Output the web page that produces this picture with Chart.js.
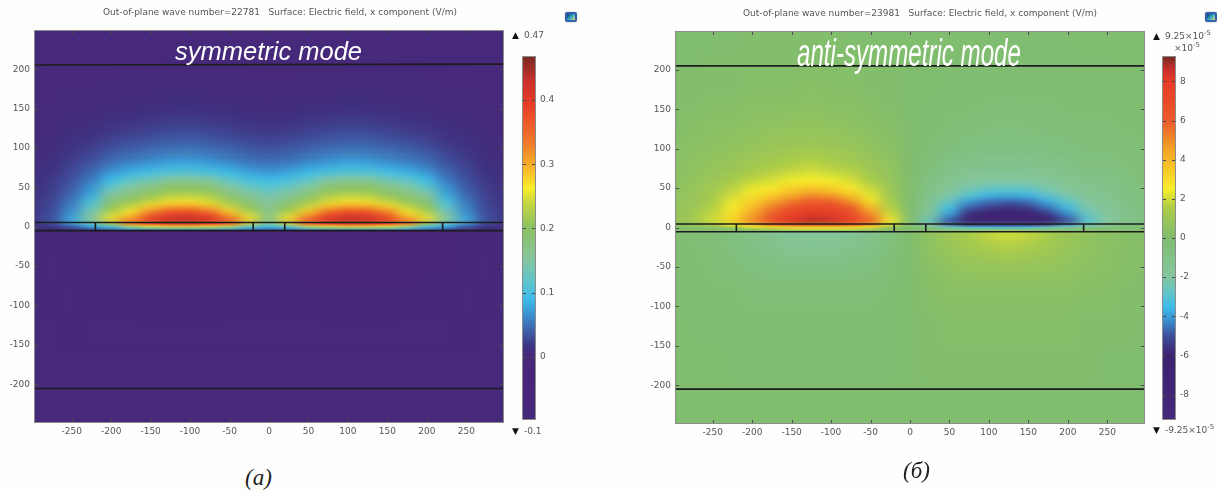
<!DOCTYPE html>
<html>
<head>
<meta charset="utf-8">
<script src="https://cdn.jsdelivr.net/npm/chart.js@4/dist/chart.umd.min.js"></script>
<style>
  html, body { margin: 0; padding: 0; background: #fefefc; }
  body { width: 1217px; height: 492px; position: relative; overflow: hidden; filter: blur(0.4px); }
  canvas { position: absolute; }
  .t { position: absolute; white-space: nowrap; font-family: "DejaVu Sans", sans-serif; font-size: 9px; color: #555; line-height: 12px; }
  .t sup { font-size: 7px; line-height: 0; }
  .mode { position: absolute; white-space: nowrap; color: #fff; font-family: "Liberation Sans", sans-serif; font-style: italic; transform-origin: left top; }
  .cap { position: absolute; font-family: "Liberation Serif", serif; font-style: italic; font-size: 23px; color: #222; line-height: 26px; }
  .icon { position: absolute; width: 8px; height: 6px; border: 2px solid #2f5fb0; border-radius: 2px; background: linear-gradient(135deg, #15306e, #38b0c8 55%, #ecdc50); box-shadow: 0 0 2px #bbb; }
</style>
</head>
<body>
<svg width="0" height="0" style="position:absolute">
  <filter id="blurFar" x="0" y="0" width="100%" height="100%" color-interpolation-filters="sRGB"><feGaussianBlur stdDeviation="8 10"/></filter>
  <filter id="blurNear" x="0" y="0" width="100%" height="100%" color-interpolation-filters="sRGB"><feGaussianBlur stdDeviation="7 3"/></filter>
  <filter id="blurBand" x="0" y="0" width="100%" height="100%" color-interpolation-filters="sRGB"><feGaussianBlur stdDeviation="6 0.8"/></filter>
</svg>

<canvas id="symChart" width="530" height="460" style="left:0;top:0"></canvas>
<canvas id="symBar" width="62" height="460" style="left:510px;top:0"></canvas>
<canvas id="antiChart" width="530" height="460" style="left:641px;top:1px"></canvas>
<canvas id="antiBar" width="67" height="460" style="left:1150px;top:0"></canvas>

<div class="t" style="left:103px;top:6px">Out-of-plane wave number=22781&nbsp;&nbsp;&nbsp;Surface: Electric field, x component (V/m)</div>
<div class="t" style="left:743px;top:7px">Out-of-plane wave number=23981&nbsp;&nbsp;&nbsp;Surface: Electric field, x component (V/m)</div>
<div class="mode" style="left:175px;top:37px;font-size:25.5px;line-height:28px">symmetric mode</div>
<div class="mode" style="left:797px;top:31px;font-size:38px;line-height:44px;transform:scaleX(.635)">anti-symmetric mode</div>

<div class="t" style="left:512px;top:29px;color:#111">&#9650;</div>
<div class="t" style="left:524px;top:29px">0.47</div>
<div class="t" style="left:512px;top:425px;color:#111">&#9660;</div>
<div class="t" style="left:524px;top:425px">-0.1</div>
<div class="t" style="left:1153px;top:30px;color:#111">&#9650;</div>
<div class="t" style="left:1165px;top:30px">9.25&times;10<sup>-5</sup></div>
<div class="t" style="left:1174px;top:42px">&times;10<sup>-5</sup></div>
<div class="t" style="left:1153px;top:424px;color:#111">&#9660;</div>
<div class="t" style="left:1165px;top:424px">-9.25&times;10<sup>-5</sup></div>

<div class="icon" style="left:565px;top:12px"></div>
<div class="icon" style="left:1205px;top:12px"></div>
<div class="cap" style="left:245px;top:465px">(a)</div>
<div class="cap" style="left:903px;top:458px">(б)</div>

<script>
// axis ticks (nm)
const xTicks = [-250, -200, -150, -100, -50, 0, 50, 100, 150, 200, 250];
const yTicks = [-200, -150, -100, -50, 0, 50, 100, 150, 200];
const symBarTicks = [0, 0.1, 0.2, 0.3, 0.4];
const antiBarTicks = [-8, -6, -4, -2, 0, 2, 4, 6, 8];

// cell centres along x, cell edges along y (rows get thin near the surface)
const xCols = [-325, -300, -275, -250, -225, -200, -175, -150, -125, -100, -75, -50, -25, 0, 25, 50, 75, 100, 125, 150, 175, 200, 225, 250, 275, 300, 325];
const yEdges = [300, 225, 200, 175, 150, 130, 110, 95, 85, 75, 65, 55, 45, 37, 30, 23, 16, 10, 5, 2.5, 0, -2.5, -5, -15, -30, -50, -75, -110, -150, -200, -300];

// Ex, 1e-3 V/m, one list per column, top to bottom
const symColumns = [
  [0,0,0,0,1,2,3,4,5,6,7,8,9,10,11,12,13,14,10,7,4,2,-2,-2,-2,-2,-1,-1,0,0],
  [0,0,0,1,2,3,5,6,8,9,11,13,14,16,17,18,19,20,16,11,7,4,-4,-4,-3,-3,-2,-1,0,0],
  [0,0,0,1,3,5,8,11,13,16,19,22,24,26,28,30,32,35,28,20,13,8,-8,-8,-7,-6,-4,-2,-1,0],
  [0,0,1,3,6,11,16,20,24,28,33,38,45,52,58,65,72,85,62,42,28,18,-12,-14,-12,-10,-6,-3,-1,0],
  [0,0,1,3,7,13,21,28,35,44,55,68,80,100,118,135,150,160,110,80,55,30,-16,-20,-18,-14,-9,-5,-2,0],
  [0,0,1,4,11,19,30,40,52,67,90,122,155,178,200,225,250,280,200,120,75,40,-20,-24,-22,-17,-11,-6,-2,0],
  [0,0,2,5,12,22,35,48,62,84,118,155,182,205,235,265,300,350,330,225,130,60,-22,-26,-24,-19,-12,-6,-2,0],
  [0,0,2,7,15,26,40,54,70,95,135,175,205,235,275,330,375,410,385,265,165,65,-24,-28,-25,-20,-13,-7,-2,0],
  [0,0,2,8,17,29,45,60,78,105,155,200,225,255,300,375,405,440,400,280,180,70,-25,-30,-26,-20,-13,-7,-2,0],
  [0,0,2,8,18,30,46,62,80,108,158,200,228,258,305,380,410,445,405,285,185,70,-25,-30,-26,-20,-13,-7,-2,0],
  [0,0,2,7,16,28,42,56,74,98,148,190,220,245,285,350,395,430,390,270,170,65,-24,-28,-25,-20,-13,-7,-2,0],
  [0,0,2,6,14,25,38,50,66,88,118,155,185,210,240,280,330,380,350,240,140,60,-22,-26,-24,-19,-12,-6,-2,0],
  [0,0,1,5,12,21,32,44,56,75,100,130,155,178,200,225,255,290,230,140,85,40,-18,-22,-20,-16,-11,-6,-2,0],
  [0,0,1,5,11,20,30,40,52,68,90,115,135,150,160,168,172,175,140,100,70,40,-14,-18,-16,-13,-9,-5,-2,0],
  [0,0,1,5,12,21,32,44,56,75,100,130,155,178,200,225,255,290,230,140,85,40,-18,-22,-20,-16,-11,-6,-2,0],
  [0,0,2,6,14,25,38,50,66,88,118,155,185,210,240,280,330,380,350,240,140,60,-22,-26,-24,-19,-12,-6,-2,0],
  [0,0,2,7,16,28,42,56,74,98,148,190,220,245,285,350,395,430,390,270,170,65,-24,-28,-25,-20,-13,-7,-2,0],
  [0,0,2,8,18,30,46,62,80,108,158,200,228,258,305,380,410,445,405,285,185,70,-25,-30,-26,-20,-13,-7,-2,0],
  [0,0,2,8,17,29,45,60,78,105,155,200,225,255,300,375,405,440,400,280,180,70,-25,-30,-26,-20,-13,-7,-2,0],
  [0,0,2,7,15,26,40,54,70,95,135,175,205,235,275,330,375,410,385,265,165,65,-24,-28,-25,-20,-13,-7,-2,0],
  [0,0,2,5,12,22,35,48,62,84,118,155,182,205,235,265,300,350,330,225,130,60,-22,-26,-24,-19,-12,-6,-2,0],
  [0,0,1,4,11,19,30,40,52,67,90,122,155,178,200,225,250,280,200,120,75,40,-20,-24,-22,-17,-11,-6,-2,0],
  [0,0,1,3,7,13,21,28,35,44,55,68,80,100,118,135,150,160,110,80,55,30,-16,-20,-18,-14,-9,-5,-2,0],
  [0,0,1,3,6,11,16,20,24,28,33,38,45,52,58,65,72,85,62,42,28,18,-12,-14,-12,-10,-6,-3,-1,0],
  [0,0,0,1,3,5,8,11,13,16,19,22,24,26,28,30,32,35,28,20,13,8,-8,-8,-7,-6,-4,-2,-1,0],
  [0,0,0,1,2,3,5,6,8,9,11,13,14,16,17,18,19,20,16,11,7,4,-4,-4,-3,-3,-2,-1,0,0],
  [0,0,0,0,1,2,3,4,5,6,7,8,9,10,11,12,13,14,10,7,4,2,-2,-2,-2,-2,-1,-1,0,0]
];

// Ex (б), 1e-6 V/m, same layout
const antiColumns = [
  [0,0,0,1,1,1,2,2,2,3,3,3,4,4,4,5,5,5,3,2,1,0,-1,-1,-1,-1,0,0,0,0],
  [0,0,1,1,1,2,3,3,3,4,4,5,6,6,7,7,8,8,5,3,1,-1,-2,-2,-2,-1,-1,0,0,0],
  [0,0,1,1,2,3,4,5,5,6,7,8,8,9,10,11,12,12,8,5,2,-1,-3,-3,-2,-2,-1,-1,0,0],
  [0,1,1,2,3,4,5,6,7,8,10,12,13,15,16,18,19,20,14,8,3,-2,-4,-4,-4,-3,-2,-1,0,0],
  [0,1,1,2,3,5,6,8,9,11,14,17,20,23,26,28,31,33,25,14,6,-2,-7,-6,-5,-4,-2,-1,-1,0],
  [1,1,2,3,4,6,8,10,12,15,18,23,28,33,38,42,47,52,40,24,12,0,-10,-9,-7,-5,-3,-2,-1,0],
  [1,1,2,3,5,7,9,12,14,17,21,27,35,44,52,58,65,70,58,28,16,2,-14,-12,-9,-6,-3,-2,-1,0],
  [1,1,2,3,5,8,10,13,16,19,24,33,43,54,63,72,78,84,70,33,20,4,-18,-14,-10,-6,-3,-2,-1,0],
  [1,1,3,4,6,8,11,14,18,21,25,37,50,62,70,79,84,90,75,35,22,5,-20,-15,-10,-6,-3,-2,-1,0],
  [1,1,2,3,5,7,10,13,16,19,24,34,47,60,69,77,82,88,72,35,22,5,-19,-14,-10,-6,-3,-2,-1,0],
  [0,1,2,3,4,6,9,11,14,17,21,27,38,49,60,68,73,78,65,32,20,4,-16,-13,-9,-6,-3,-2,-1,0],
  [0,1,1,2,3,4,6,8,10,12,15,19,23,29,38,48,55,62,50,28,16,3,-12,-11,-8,-5,-3,-2,-1,0],
  [0,0,1,1,2,3,4,5,6,7,8,10,12,14,16,19,23,28,22,10,4,-2,-6,-6,-4,-3,-2,-1,-1,0],
  [0,0,0,0,0,0,0,0,0,0,0,0,0,0,0,0,0,0,0,0,0,0,0,0,0,0,0,0,0,0],
  [0,0,0,-1,-1,-2,-3,-4,-5,-6,-8,-10,-12,-14,-16,-18,-22,-28,-20,-10,-4,2,6,6,4,3,2,1,1,0],
  [0,-1,-1,-2,-3,-4,-5,-7,-9,-11,-13,-16,-21,-27,-33,-37,-44,-54,-46,-26,-14,-3,11,10,7,5,3,2,1,0],
  [0,-1,-1,-2,-3,-5,-7,-9,-11,-14,-17,-23,-30,-40,-47,-56,-63,-70,-60,-32,-18,-3,15,13,9,6,3,2,1,0],
  [-1,-1,-2,-3,-4,-6,-8,-10,-12,-15,-19,-27,-36,-46,-52,-60,-68,-78,-66,-35,-18,2,19,15,10,6,3,2,1,0],
  [-1,-1,-2,-3,-5,-6,-8,-10,-12,-16,-20,-28,-38,-48,-56,-64,-70,-80,-68,-36,-18,4,21,16,11,6,3,2,1,0],
  [-1,-1,-2,-3,-4,-6,-8,-10,-12,-15,-19,-27,-36,-46,-53,-61,-68,-78,-64,-34,-17,3,19,15,10,6,3,2,1,0],
  [-1,-1,-2,-3,-4,-5,-7,-9,-11,-13,-17,-22,-29,-38,-44,-53,-60,-68,-54,-28,-14,1,15,12,9,6,3,2,1,0],
  [-1,-1,-2,-2,-3,-5,-6,-8,-9,-11,-14,-17,-22,-28,-33,-40,-47,-55,-40,-22,-10,0,10,9,7,5,3,2,1,0],
  [0,-1,-1,-2,-3,-4,-5,-6,-7,-9,-11,-13,-16,-19,-22,-25,-28,-31,-24,-14,-6,2,7,6,5,4,2,1,1,0],
  [0,-1,-1,-2,-3,-4,-5,-6,-7,-8,-10,-12,-13,-15,-16,-18,-19,-20,-14,-8,-3,2,4,4,4,3,2,1,0,0],
  [0,0,-1,-1,-2,-3,-4,-5,-5,-6,-7,-8,-8,-9,-10,-11,-12,-12,-8,-5,-2,1,3,3,2,2,1,1,0,0],
  [0,0,-1,-1,-1,-2,-3,-3,-3,-4,-4,-5,-6,-6,-7,-7,-8,-8,-5,-3,-1,1,2,2,2,1,1,0,0,0],
  [0,0,0,-1,-1,-1,-2,-2,-2,-3,-3,-3,-4,-4,-4,-5,-5,-5,-3,-2,-1,0,1,1,1,1,0,0,0,0]
];

// colour table of each legend, same units as the fields
const symStopValues = [-100, -25, 0, 15, 40, 65, 90, 120, 150, 200, 240, 262, 295, 330, 395, 430, 467];
const symStopColors = ['#45287a', '#49247a', '#46297a', '#3f3080', '#3f5fa8', '#3a90d0', '#3dbde8', '#62c4c8', '#85c6a0', '#8bc162', '#c5d640', '#f8ee2a', '#f9b428', '#ef7d2b', '#e83a28', '#c8302a', '#7a2a24'];
const antiStopValues = [-92.5, -60, -50, -42, -35, -28, -20, 0, 15, 25, 45, 60, 80, 86, 92.5];
const antiStopColors = ['#45287a', '#3d2270', '#3f4e9a', '#3a90d0', '#3dbde8', '#62c4c8', '#85c6a0', '#80bd6e', '#a9cb4a', '#f8ee2a', '#f4a428', '#ea5a2a', '#e83a28', '#c8302a', '#7a2a24'];

// interfaces drawn in black: [x, y] ends of every segment
const symLines = [
  [[-300, 205.5], [300, 206.5]], [[-300, -205.5], [300, -205.5]],
  [[-300, 5.4], [300, 5.4]], [[-300, -5], [300, -5]],
  [[-220, 5], [-220, -5]], [[-20, 5], [-20, -5]], [[20, 5], [20, -5]], [[220, 5], [220, -5]]
];
const antiLines = [
  [[-300, 205], [300, 205]], [[-300, -205], [300, -205]],
  [[-300, 4.4], [300, 4.4]], [[-300, -5.3], [300, -5.3]],
  [[-220, 4.4], [-220, -5.3]], [[-20, 4.4], [-20, -5.3]], [[20, 4.4], [20, -5.3]], [[220, 4.4], [220, -5.3]]
];

function hexToRgb(h) {
  return [parseInt(h.slice(1, 3), 16), parseInt(h.slice(3, 5), 16), parseInt(h.slice(5, 7), 16)];
}

function colorFor(v, stopValues, stopColors) {
  let i = 0;
  while (i < stopValues.length - 2 && v > stopValues[i + 1]) i++;
  let t = (v - stopValues[i]) / (stopValues[i + 1] - stopValues[i]);
  t = Math.max(0, Math.min(1, t));
  const a = hexToRgb(stopColors[i]), b = hexToRgb(stopColors[i + 1]);
  return `rgb(${a[0] + (b[0] - a[0]) * t},${a[1] + (b[1] - a[1]) * t},${a[2] + (b[2] - a[2]) * t})`;
}

function heatDatasets(columns, stopValues, stopColors) {
  const sets = [];
  for (let r = 0; r < yEdges.length - 1; r++) {
    sets.push({
      type: 'bar',
      order: 1,
      grouped: false,
      clip: false,
      barPercentage: 1,
      categoryPercentage: 1,
      borderWidth: 0,
      data: xCols.map(x => ({ x: x, y: [yEdges[r + 1], yEdges[r]] })),
      backgroundColor: columns.map(col => colorFor(col[r], stopValues, stopColors))
    });
  }
  return sets;
}

function lineDatasets(lines) {
  return lines.map(seg => ({
    type: 'line',
    order: 0,
    data: seg.map(p => ({ x: p[0], y: p[1] })),
    borderColor: '#1c1c1c',
    borderWidth: 1.6,
    pointRadius: 0
  }));
}

// the cells are smoothed once they are painted, thin rows get a tighter blur
function smoothCells(chart) {
  const ctx = chart.ctx, c = chart.canvas, a = chart.chartArea, y = chart.scales.y;
  const tmp = document.createElement('canvas');
  tmp.width = c.width; tmp.height = c.height;
  tmp.getContext('2d').drawImage(c, 0, 0);

  const nearTop = Math.round(y.getPixelForValue(90));
  const bandTop = Math.round(y.getPixelForValue(5));
  const bandBot = Math.round(y.getPixelForValue(-5));

  // below the surface the band must not bleed down, so repeat its first row upward
  const below = document.createElement('canvas');
  below.width = c.width; below.height = c.height;
  const bctx = below.getContext('2d');
  bctx.drawImage(tmp, 0, 0);
  bctx.drawImage(tmp, 0, bandBot + 1, c.width, 1, 0, 0, c.width, bandBot + 1);

  const zones = [
    [a.top, nearTop, 'blurFar', tmp],
    [nearTop, bandTop, 'blurNear', tmp],
    [bandTop, bandBot, 'blurBand', tmp],
    [bandBot, a.bottom, 'blurFar', below]
  ];
  zones.forEach(z => {
    ctx.save();
    ctx.beginPath();
    ctx.rect(a.left, z[0], a.right - a.left, z[1] - z[0]);
    ctx.clip();
    ctx.filter = `url(#${z[2]})`;
    ctx.drawImage(z[3], 0, 0);
    ctx.restore();
  });

  ctx.clearRect(0, 0, a.left, c.height);
  ctx.clearRect(a.right, 0, c.width - a.right, c.height);
  ctx.clearRect(0, 0, c.width, a.top);
  ctx.clearRect(0, a.bottom, c.width, c.height - a.bottom);
}

const smoothPlugin = {
  id: 'smoothPlugin',
  beforeDraw(chart) { chart.$smoothed = false; },
  beforeDatasetDraw(chart, args) {
    if (!chart.$smoothed && chart.data.datasets[args.index].type === 'line') {
      smoothCells(chart);
      chart.$smoothed = true;
    }
  }
};

// short ticks pointing inward on every side, plus the thin frame
const framePlugin = {
  id: 'framePlugin',
  afterDraw(chart) {
    const ctx = chart.ctx, a = chart.chartArea;
    ctx.save();
    ctx.lineWidth = 1;
    ctx.strokeStyle = '#4a4a4a';
    ctx.beginPath();
    const len = 3;
    if (chart.scales.x && chart.scales.x.options.display) {
      chart.scales.x.ticks.forEach(t => {
        const px = Math.round(chart.scales.x.getPixelForValue(t.value)) + 0.5;
        ctx.moveTo(px, a.top); ctx.lineTo(px, a.top + len);
        ctx.moveTo(px, a.bottom); ctx.lineTo(px, a.bottom - len);
      });
    }
    chart.scales.y.ticks.forEach(t => {
      const py = Math.round(chart.scales.y.getPixelForValue(t.value)) + 0.5;
      ctx.moveTo(a.left, py); ctx.lineTo(a.left + len, py);
      ctx.moveTo(a.right, py); ctx.lineTo(a.right - len, py);
    });
    ctx.stroke();
    ctx.strokeStyle = '#8c8c8c';
    ctx.strokeRect(a.left - 0.5, a.top - 0.5, a.right - a.left + 1, a.bottom - a.top + 1);
    ctx.restore();
  }
};

const tickFont = { family: '"DejaVu Sans", sans-serif', size: 9 };

function heatChart(id, columns, stopValues, stopColors, lines, xMax, yMin, yMax) {
  return new Chart(document.getElementById(id), {
    type: 'bar',
    data: { datasets: heatDatasets(columns, stopValues, stopColors).concat(lineDatasets(lines)) },
    plugins: [smoothPlugin, framePlugin],
    options: {
      responsive: false,
      animation: false,
      layout: { padding: { top: 31, right: 27 } },
      plugins: { legend: { display: false }, tooltip: { enabled: false }, title: { display: false } },
      scales: {
        x: {
          type: 'linear', offset: false, min: -xMax, max: xMax,
          grid: { display: false, drawTicks: false, z: 1 }, border: { display: false, z: 1 },
          afterBuildTicks: s => { s.ticks = xTicks.map(v => ({ value: v })); },
          afterFit: s => { s.height = 38; },
          ticks: { z: 1, font: tickFont, color: '#555', padding: 4, maxRotation: 0, autoSkip: false }
        },
        y: {
          type: 'linear', min: yMin, max: yMax,
          grid: { display: false, drawTicks: false, z: 1 }, border: { display: false, z: 1 },
          afterBuildTicks: s => { s.ticks = yTicks.map(v => ({ value: v })); },
          afterFit: s => { s.width = 35; },
          ticks: { z: 1, font: tickFont, color: '#555', padding: 5, autoSkip: false }
        }
      }
    }
  });
}

function barChart(id, ticks, barMin, barMax, stopValues, stopColors, padLeft, barWidth, top, fmt) {
  const c = document.getElementById(id);
  const chart = new Chart(c, {
    type: 'bar',
    data: {
      labels: ['legend'],
      datasets: [{
        data: [[barMin, barMax]],
        barPercentage: 1,
        categoryPercentage: 1,
        borderWidth: 0,
        backgroundColor(ctx) {
          const ch = ctx.chart;
          if (!ch.chartArea) return stopColors[0];
          const yScale = ch.scales.y;
          const g = ch.ctx.createLinearGradient(0, yScale.getPixelForValue(barMin), 0, yScale.getPixelForValue(barMax));
          stopValues.forEach((v, i) => g.addColorStop(Math.max(0, Math.min(1, (v - barMin) / (barMax - barMin))), stopColors[i]));
          return g;
        }
      }]
    },
    plugins: [framePlugin],
    options: {
      responsive: false,
      animation: false,
      layout: { padding: { left: padLeft, top: top, bottom: 41 } },
      plugins: { legend: { display: false }, tooltip: { enabled: false } },
      scales: {
        x: { display: false },
        y: {
          position: 'right', min: barMin, max: barMax,
          grid: { display: false, drawTicks: false }, border: { display: false },
          afterBuildTicks: s => { s.ticks = ticks.map(v => ({ value: v })); },
          afterFit: s => { s.width = c.width - padLeft - barWidth; },
          ticks: { font: tickFont, color: '#555', padding: 5, autoSkip: false, callback: fmt }
        }
      }
    }
  });
  return chart;
}

heatChart('symChart', symColumns, symStopValues, symStopColors, symLines, 296.5, -248, 248.6);
heatChart('antiChart', antiColumns, antiStopValues, antiStopColors, antiLines, 296.5, -248, 248);
barChart('symBar', symBarTicks.map(v => v * 1000), -97, 467, symStopValues, symStopColors, 13, 12, 57, v => String(v / 1000));
barChart('antiBar', antiBarTicks.map(v => v * 10), -92.5, 92.5, antiStopValues, antiStopColors, 13, 12, 57, v => String(v / 10));
</script>
</body>
</html>
